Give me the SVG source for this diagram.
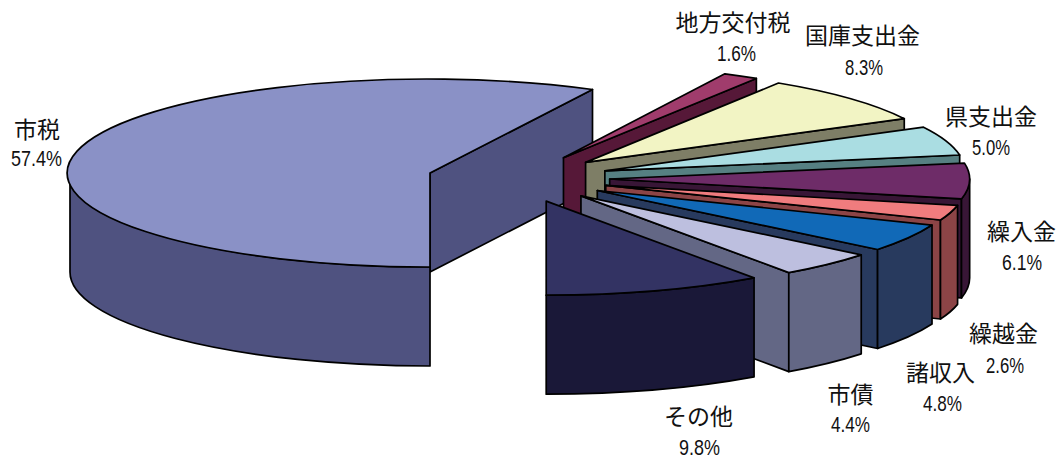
<svg xmlns="http://www.w3.org/2000/svg" width="1064" height="460" viewBox="0 0 1064 460">
<style>
path{stroke:#000;stroke-width:1.7;stroke-linejoin:round}
.lb{font-family:"Noto Sans CJK JP","Noto Sans CJK SC",sans-serif;font-size:23px;fill:#111;text-anchor:middle}
.pc{font-family:"Liberation Sans",Arial,sans-serif;font-size:22.5px;fill:#111;text-anchor:middle}
</style>
<rect width="1064" height="460" fill="#fff"/>
<g id="connectors"/>
<g id="slice-shizei">
<path fill="#4F5280" d="M430,173 L592.5,89.5 L592.5,188.5 L430,272 Z"/>
<path fill="#4F5280" d="M430,267 A360 94 0 0 1 70,173 L70,272 A360 94 0 0 0 430,366 Z"/>
<path fill="#8A91C6" d="M430,173 L430,267 A360 94 0 1 1 592.5,89.5 Z"/>
<text class="lb" x="37" y="138">市税</text>
<text class="pc" x="36.5" y="166" textLength="51" lengthAdjust="spacingAndGlyphs">57.4%</text>
</g>
<g id="slice-chihoukoufuzei">
<path fill="#561838" d="M563.47,157.81 L756.36,78.45 L756.36,177.45 L563.47,256.81 Z"/>
<path fill="#A03C6C" d="M563.47,157.81 L724.89,73.79 A360 94 0 0 1 756.36,78.45 Z"/>
<text class="lb" x="733" y="31">地方交付税</text>
<text class="pc" x="736.5" y="61" textLength="39" lengthAdjust="spacingAndGlyphs">1.6%</text>
</g>
<g id="slice-kokko">
<path fill="#7E7E66" d="M585.59,162.39 L904.26,118.67 L904.26,217.67 L585.59,261.39 Z"/>
<path fill="#F2F4C4" d="M585.59,162.39 L778.48,83.03 A360 94 0 0 1 904.26,118.67 Z"/>
<text class="lb" x="862.5" y="44">国庫支出金</text>
<text class="pc" x="864" y="75" textLength="38" lengthAdjust="spacingAndGlyphs">8.3%</text>
</g>
<g id="slice-ken">
<path fill="#568082" d="M604.86,170.87 L959.68,155 L959.68,254 L604.86,269.87 Z"/>
<path fill="#AADDE2" d="M604.86,170.87 L923.53,127.15 A360 94 0 0 1 959.68,155 Z"/>
<text class="lb" x="991" y="125">県支出金</text>
<text class="pc" x="991" y="155" textLength="38" lengthAdjust="spacingAndGlyphs">5.0%</text>
</g>
<g id="slice-kuriire">
<path fill="#381636" d="M609.66,179.02 L961.49,198.95 L961.49,297.95 L609.66,278.02 Z"/>
<path fill="#381636" d="M969.66,179.02 A360 94 0 0 1 961.49,198.95 L961.49,297.95 A360 94 0 0 0 969.66,278.02 Z"/>
<path fill="#6E2C68" d="M609.66,179.02 L964.48,163.15 A360 94 0 0 1 961.49,198.95 Z"/>
<text class="lb" x="1021.5" y="240">繰入金</text>
<text class="pc" x="1022" y="270" textLength="40" lengthAdjust="spacingAndGlyphs">6.1%</text>
</g>
<g id="slice-kurikoshi">
<path fill="#8C4446" d="M605.74,185.42 L940.47,220.02 L940.47,319.02 L605.74,284.42 Z"/>
<path fill="#8C4446" d="M957.57,205.35 A360 94 0 0 1 940.47,220.02 L940.47,319.02 A360 94 0 0 0 957.57,304.35 Z"/>
<path fill="#F07C7E" d="M605.74,185.42 L957.57,205.35 A360 94 0 0 1 940.47,220.02 Z"/>
<text class="lb" x="1003.5" y="342">繰越金</text>
<text class="pc" x="1005" y="373" textLength="38" lengthAdjust="spacingAndGlyphs">2.6%</text>
</g>
<g id="slice-shoshuunyuu">
<path fill="#283A5E" d="M597.28,190.48 L877.58,249.47 L877.58,348.47 L597.28,289.48 Z"/>
<path fill="#283A5E" d="M932.01,225.08 A360 94 0 0 1 877.58,249.47 L877.58,348.47 A360 94 0 0 0 932.01,324.08 Z"/>
<path fill="#1169B7" d="M597.28,190.48 L932.01,225.08 A360 94 0 0 1 877.58,249.47 Z"/>
<text class="lb" x="940.5" y="381">諸収入</text>
<text class="pc" x="942.5" y="411" textLength="39" lengthAdjust="spacingAndGlyphs">4.8%</text>
</g>
<g id="slice-shisai">
<path fill="#636785" d="M580.94,195.84 L788.8,272.59 L788.8,371.59 L580.94,294.84 Z"/>
<path fill="#636785" d="M861.24,254.83 A360 94 0 0 1 788.8,272.59 L788.8,371.59 A360 94 0 0 0 861.24,353.83 Z"/>
<path fill="#BDBFDF" d="M580.94,195.84 L861.24,254.83 A360 94 0 0 1 788.8,272.59 Z"/>
<text class="lb" x="850.5" y="403">市債</text>
<text class="pc" x="850.5" y="432" textLength="39" lengthAdjust="spacingAndGlyphs">4.4%</text>
</g>
<g id="slice-sonota">
<path fill="#1A1838" d="M754.06,277.91 A360 94 0 0 1 546.2,295.16 L546.2,394.16 A360 94 0 0 0 754.06,376.91 Z"/>
<path fill="#333363" d="M546.2,201.16 L754.06,277.91 A360 94 0 0 1 546.2,295.16 Z"/>
<text class="lb" x="698.5" y="425">その他</text>
<text class="pc" x="699.5" y="455" textLength="41" lengthAdjust="spacingAndGlyphs">9.8%</text>
</g>
</svg>
